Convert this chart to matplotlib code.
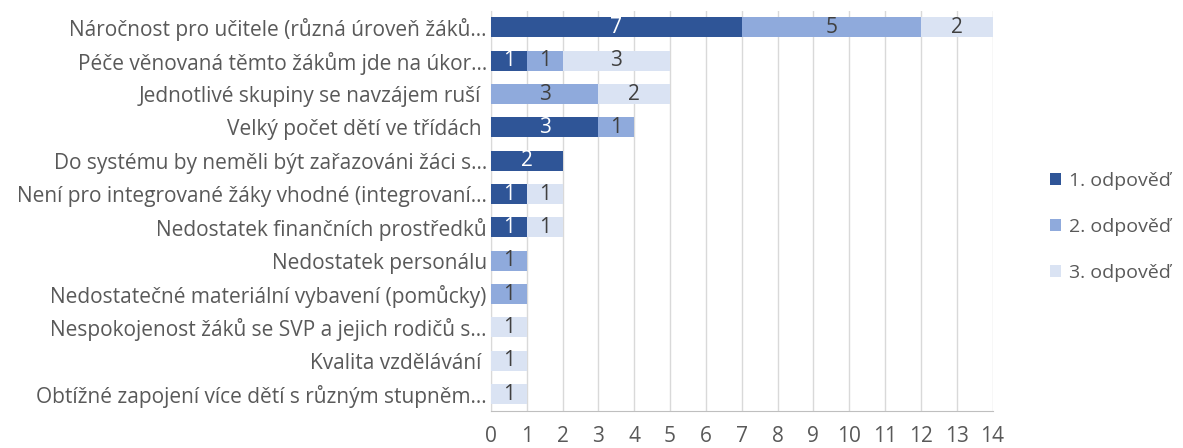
import matplotlib
matplotlib.use("Agg")
from matplotlib import pyplot as plt
import numpy as np

categories = [
    "Náročnost pro učitele (různá úroveň žáků…",
    "Péče věnovaná těmto žákům jde na úkor…",
    "Jednotlivé skupiny se navzájem ruší ",
    "Velký počet dětí ve třídách ",
    "Do systému by neměli být zařazováni žáci s…",
    "Není pro integrované žáky vhodné (integrovaní…",
    "Nedostatek finančních prostředků",
    "Nedostatek personálu",
    "Nedostatečné materiální vybavení (pomůcky)",
    "Nespokojenost žáků se SVP a jejich rodičů s…",
    "Kvalita vzdělávání ",
    "Obtížné zapojení více dětí s různým stupněm…",
]
odp1 = [7, 1, 0, 3, 2, 1, 1, 0, 0, 0, 0, 0]
odp2 = [5, 1, 3, 1, 0, 0, 0, 1, 1, 0, 0, 0]
odp3 = [2, 3, 2, 0, 0, 1, 1, 0, 0, 1, 1, 1]
series_names = ["1. odpověď", "2. odpověď", "3. odpověď"]

colors = ["#2F5597", "#8FAADC", "#DAE3F3"]
text_colors = ["white", "#404040", "#404040"]

plt.rcParams['font.family'] = ['Open Sans', 'DejaVu Sans']
fs = 15

fig = plt.figure(figsize=(11.83, 4.48), dpi=100)
ax = fig.add_axes([0.415, 0.083, 0.424, 0.893])

y = np.arange(len(categories))
left = np.zeros(len(categories))
for vals, name, c, tc in zip([odp1, odp2, odp3], series_names, colors, text_colors):
    vals = np.array(vals, dtype=float)
    ax.barh(y, vals, left=left, height=0.6, color=c, label=name, zorder=3)
    for yi, v, l in zip(y, vals, left):
        if v > 0:
            ax.text(l + v / 2, yi, str(int(v)), ha="center", va="center",
                    color=tc, fontsize=fs, zorder=4)
    left += vals

ax.set_xlim(0, 14)
ax.set_ylim(len(categories) - 0.5, -0.5)
ax.set_xticks(range(0, 15))
ax.set_yticks(y)
ax.set_yticklabels(categories)
ax.tick_params(axis="y", length=0, pad=3, labelsize=fs, labelcolor="#595959")
ax.tick_params(axis="x", length=0, pad=11, labelsize=fs, labelcolor="#595959")
ax.grid(axis="x", color="#D9D9D9", linewidth=1, zorder=0)
for s in ["top", "right"]:
    ax.spines[s].set_visible(False)
ax.spines["left"].set_color("#D9D9D9")
ax.spines["bottom"].set_color("#BFBFBF")

leg = ax.legend(loc="center left", bbox_to_anchor=(1.08, 0.46), frameon=False,
                fontsize=14, labelspacing=1.45, handlelength=0.55, handleheight=0.55,
                handletextpad=0.4)
for t in leg.get_texts():
    t.set_color("#595959")

fig.savefig("out.png", dpi=100)
